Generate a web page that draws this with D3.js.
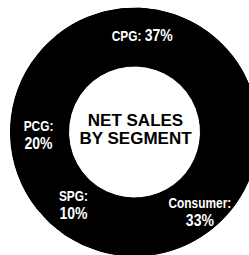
<!DOCTYPE html>
<html>
<head>
<meta charset="utf-8">
<title>Net sales by segment</title>
<script src="https://cdn.jsdelivr.net/npm/d3@7"></script>
<style>
  body { margin: 0; background: #fff; }
  svg { display: block; }
  .name { font-family: "Liberation Sans", Arial, sans-serif; font-weight: bold; font-size: 14px; fill: #fff; }
  .value { font-family: "Liberation Sans", Arial, sans-serif; font-weight: bold; font-size: 16.5px; fill: #fff; }
  .title { font-family: "Liberation Sans", Arial, sans-serif; font-weight: bold; font-size: 17px; fill: #000; }
</style>
</head>
<body>
<svg width="249" height="255"></svg>
<script>
// segment data, clockwise from upper left
var segments = ["CPG", "Consumer", "SPG", "PCG"];
var names = ["CPG:", "Consumer:", "SPG:", "PCG:"];
var shares = [37, 33, 10, 20];
var titleLines = ["NET SALES", "BY SEGMENT"];

// label tweaks (degrees around ring, radius) to sit where the print had them
var labelTurn = [-6, 4, 6, 0];
var labelRadius = [96, 103, 95, 96];

var svg = d3.select("svg"),
    cx = 134.5, cy = 132,
    outerR = 124, innerR = 66,
    startDeg = -56,
    squeeze = 0.85;   // labels were set in a condensed face

var g = svg.append("g").attr("transform", "translate(" + cx + "," + cy + ")");

var pie = d3.pie()
    .sort(null)
    .startAngle(startDeg * Math.PI / 180)
    .endAngle((startDeg + 360) * Math.PI / 180)
    .value(function(d){ return d; });

var arc = d3.arc().innerRadius(innerR).outerRadius(outerR);
var arcs = pie(shares);

// solid ring underneath so the slice joins don't show
g.append("path")
    .attr("d", arc({startAngle: 0, endAngle: 2 * Math.PI}))
    .attr("fill", "#000");

// ring slices, all solid black
g.selectAll(".slice")
    .data(arcs)
    .enter()
    .append("path")
    .attr("class", "slice")
    .attr("d", arc)
    .attr("fill", "#000")
    .attr("stroke", "#000")
    .attr("stroke-width", 1);

// label position from slice mid angle
function labelPos(d, i) {
    var a = (d.startAngle + d.endAngle) / 2 + labelTurn[i] * Math.PI / 180;
    var r = labelRadius[i];
    return [Math.sin(a) * r, -Math.cos(a) * r];
}

var labels = g.selectAll(".label")
    .data(arcs)
    .enter()
    .append("text")
    .attr("class", "label")
    .attr("text-anchor", "middle")
    .attr("transform", function(d, i){
        var p = labelPos(d, i);
        return "translate(" + p[0] + "," + p[1] + ") scale(" + squeeze + ",1)";
    });

labels.each(function(d, i){
    var t = d3.select(this);
    if (segments[i] === "CPG") {
        // single line on top
        t.attr("y", 5);
        t.append("tspan").attr("class", "name").text(names[i] + " ");
        t.append("tspan").attr("class", "value").text(shares[i] + "%");
    } else {
        t.append("tspan").attr("class", "name").attr("x", 0).attr("y", -4).text(names[i]);
        t.append("tspan").attr("class", "value").attr("x", 0).attr("y", 14).text(shares[i] + "%");
    }
});

// centre title
g.append("text")
    .attr("class", "title")
    .attr("text-anchor", "middle")
    .selectAll("tspan")
    .data(titleLines)
    .enter()
    .append("tspan")
    .attr("x", 1)
    .attr("y", function(d, i){ return -6 + i * 18; })
    .text(function(d){ return d; });
</script>
</body>
</html>
